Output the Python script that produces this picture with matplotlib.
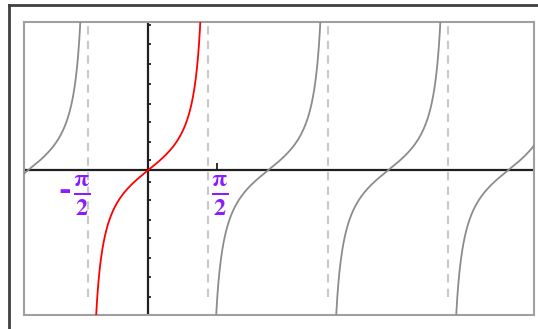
import numpy as np
import matplotlib
matplotlib.use("Agg")
import matplotlib.pyplot as plt
from matplotlib.lines import Line2D

plt.rcParams["mathtext.fontset"] = "stix"
plt.rcParams["mathtext.default"] = "bf"

# view window of the tan graph
xLimits = [-3.25, 10.1]
yLimits = [-4.69, 4.80]
# branch indices k: tan on ((k-1/2)pi, (k+1/2)pi); k = 0 is highlighted
branches = [-1, 0, 1, 2, 3]
asymptoteMultiples = [-1, 1, 3, 5]   # x = m * pi/2
yTicks = [0.32, 0.92, 1.56, 2.16, 2.80, 3.44, 4.09, 4.69,
          -0.39, -0.98, -1.61, -2.20, -2.83, -3.47, -4.12, -4.69]
xTickMarks = [1.81]
labelX = [-1.74, 1.87]
labelSigns = ["-", ""]

purple = "#8a1cff"
gray = "#8c8c8c"

fig = plt.figure(figsize=(5.38, 3.29), dpi=100)
ax = fig.add_axes([24 / 538, 14 / 329, 510 / 538, 293 / 329])
ax.set_xlim(xLimits)
ax.set_ylim(yLimits)
ax.set_xticks([]); ax.set_yticks([])
for s in ax.spines.values():
    s.set_color("#a0a0a0"); s.set_linewidth(1.5)

# outer frame (top and left edges visible)
fig.add_artist(Line2D([9 / 538, 1], [1 - 5 / 329] * 2, color="#404040", lw=2))
fig.add_artist(Line2D([9 / 538] * 2, [0, 1 - 5 / 329], color="#404040", lw=2))

for m in asymptoteMultiples:
    ax.axvline(m * np.pi / 2, color="#c8c8c8", lw=1.5, ls=(0, (4, 3)),
               ymin=0.06, ymax=1, zorder=1)

ax.axhline(0, color="#202020", lw=1.6, zorder=2)
ax.axvline(0, color="#202020", lw=1.6, zorder=2)
for t in yTicks:
    ax.plot([0, 0.07], [t, t], color="#202020", lw=1.3, zorder=2, solid_capstyle="butt")
for t in xTickMarks:
    ax.plot([t, t], [0, 0.22], color="#202020", lw=1.3, zorder=2, solid_capstyle="butt")

for k in branches:
    xs = np.linspace((k - 0.5) * np.pi + 1e-3, (k + 0.5) * np.pi - 1e-3, 800)
    ax.plot(xs, np.tan(xs), color="red" if k == 0 else gray,
            lw=1.3, zorder=3)

for pos, sign in zip(labelX, labelSigns):
    ax.text(pos, -0.84, r"$\frac{\pi}{2}$", color=purple, fontsize=25,
            ha="center", va="center", zorder=4)
    if sign:
        ax.text(pos - 0.45, -0.68, sign, color=purple, fontsize=22,
                ha="center", va="center", fontweight="bold", zorder=4)

fig.savefig("out.png", dpi=100)
